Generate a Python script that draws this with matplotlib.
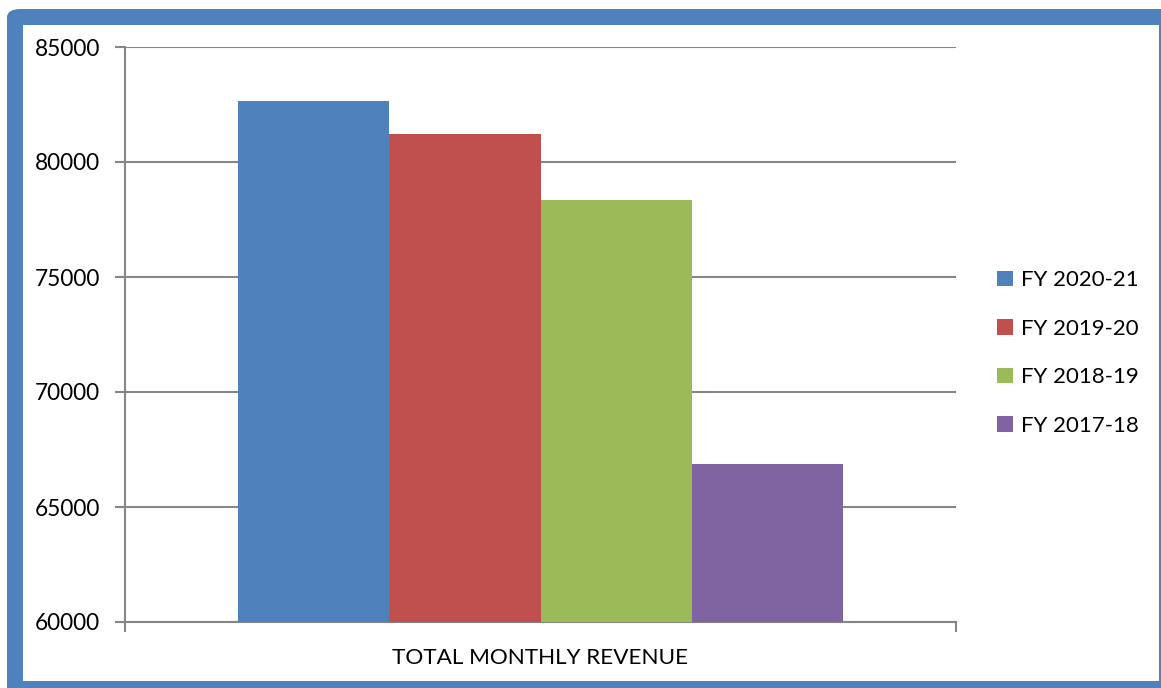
import matplotlib.pyplot as plt
from matplotlib.patches import FancyBboxPatch, Rectangle

# Datos del gráfico
categoria = "TOTAL MONTHLY REVENUE"
series = ["FY 2020-21", "FY 2019-20", "FY 2018-19", "FY 2017-18"]
valores = [82650, 81200, 78350, 66870]
colores = ["#4F81BD", "#C0504D", "#9BBB59", "#8064A2"]
y_ticks = [60000, 65000, 70000, 75000, 80000, 85000]

plt.rcParams['font.family'] = ['Lato', 'DejaVu Sans']

W, H = 1161, 688
fig = plt.figure(figsize=(W / 100, H / 100), dpi=100)

# Marco azul con esquina redondeada (detrás de los ejes)
marco = FancyBboxPatch((7 / W, -20 / H), (W + 30) / W, (H - 9 + 20) / H,
                       boxstyle="round,pad=0,rounding_size=0.012",
                       transform=fig.transFigure, facecolor="#4F81BD",
                       edgecolor="none", zorder=-2)
fig.patches.append(marco)
interior = Rectangle((23 / W, 7 / H), (1159 - 23) / W, (681 - 25) / H,
                     transform=fig.transFigure, facecolor="white",
                     edgecolor="none", zorder=-1)
fig.patches.append(interior)

ax = fig.add_axes([125 / W, 1 - 622 / H, (956 - 125) / W, (622 - 47) / H])
ax.set_facecolor("none")

ancho = 0.182
n = len(series)
for i, (s, v, c) in enumerate(zip(series, valores, colores)):
    x = (i - (n - 1) / 2) * ancho
    ax.bar(x, v, width=ancho, color=c, label=s, zorder=3)

ax.set_ylim(60000, 85000)
ax.set_xlim(-0.5, 0.5)
ax.set_yticks(y_ticks)
ax.set_yticklabels([str(t) for t in y_ticks])
ax.set_xticks([0])
ax.set_xticklabels([categoria])
ax.set_xticks([-0.5, 0.5], minor=True)

gris = "#868686"
ax.grid(axis='y', color=gris, linewidth=1.5, zorder=0)
for lado in ['top', 'right']:
    ax.spines[lado].set_visible(False)
for lado in ['left', 'bottom']:
    ax.spines[lado].set_color(gris)
    ax.spines[lado].set_linewidth(1.5)

ax.tick_params(axis='y', length=7, width=1.5, color=gris, pad=11,
               labelsize=16.3, labelcolor='black')
ax.tick_params(axis='x', which='major', length=0, pad=19, labelsize=16.2,
               labelcolor='black')
ax.tick_params(axis='x', which='minor', length=7, width=1.5, color=gris)

leg = ax.legend(loc='center left', bbox_to_anchor=(977 / W, 1 - 353 / H),
                bbox_transform=fig.transFigure, frameon=False, fontsize=16,
                handlelength=0.7, handleheight=0.7, handletextpad=0.4,
                labelspacing=1.28)

fig.savefig("out.png", dpi=100)
